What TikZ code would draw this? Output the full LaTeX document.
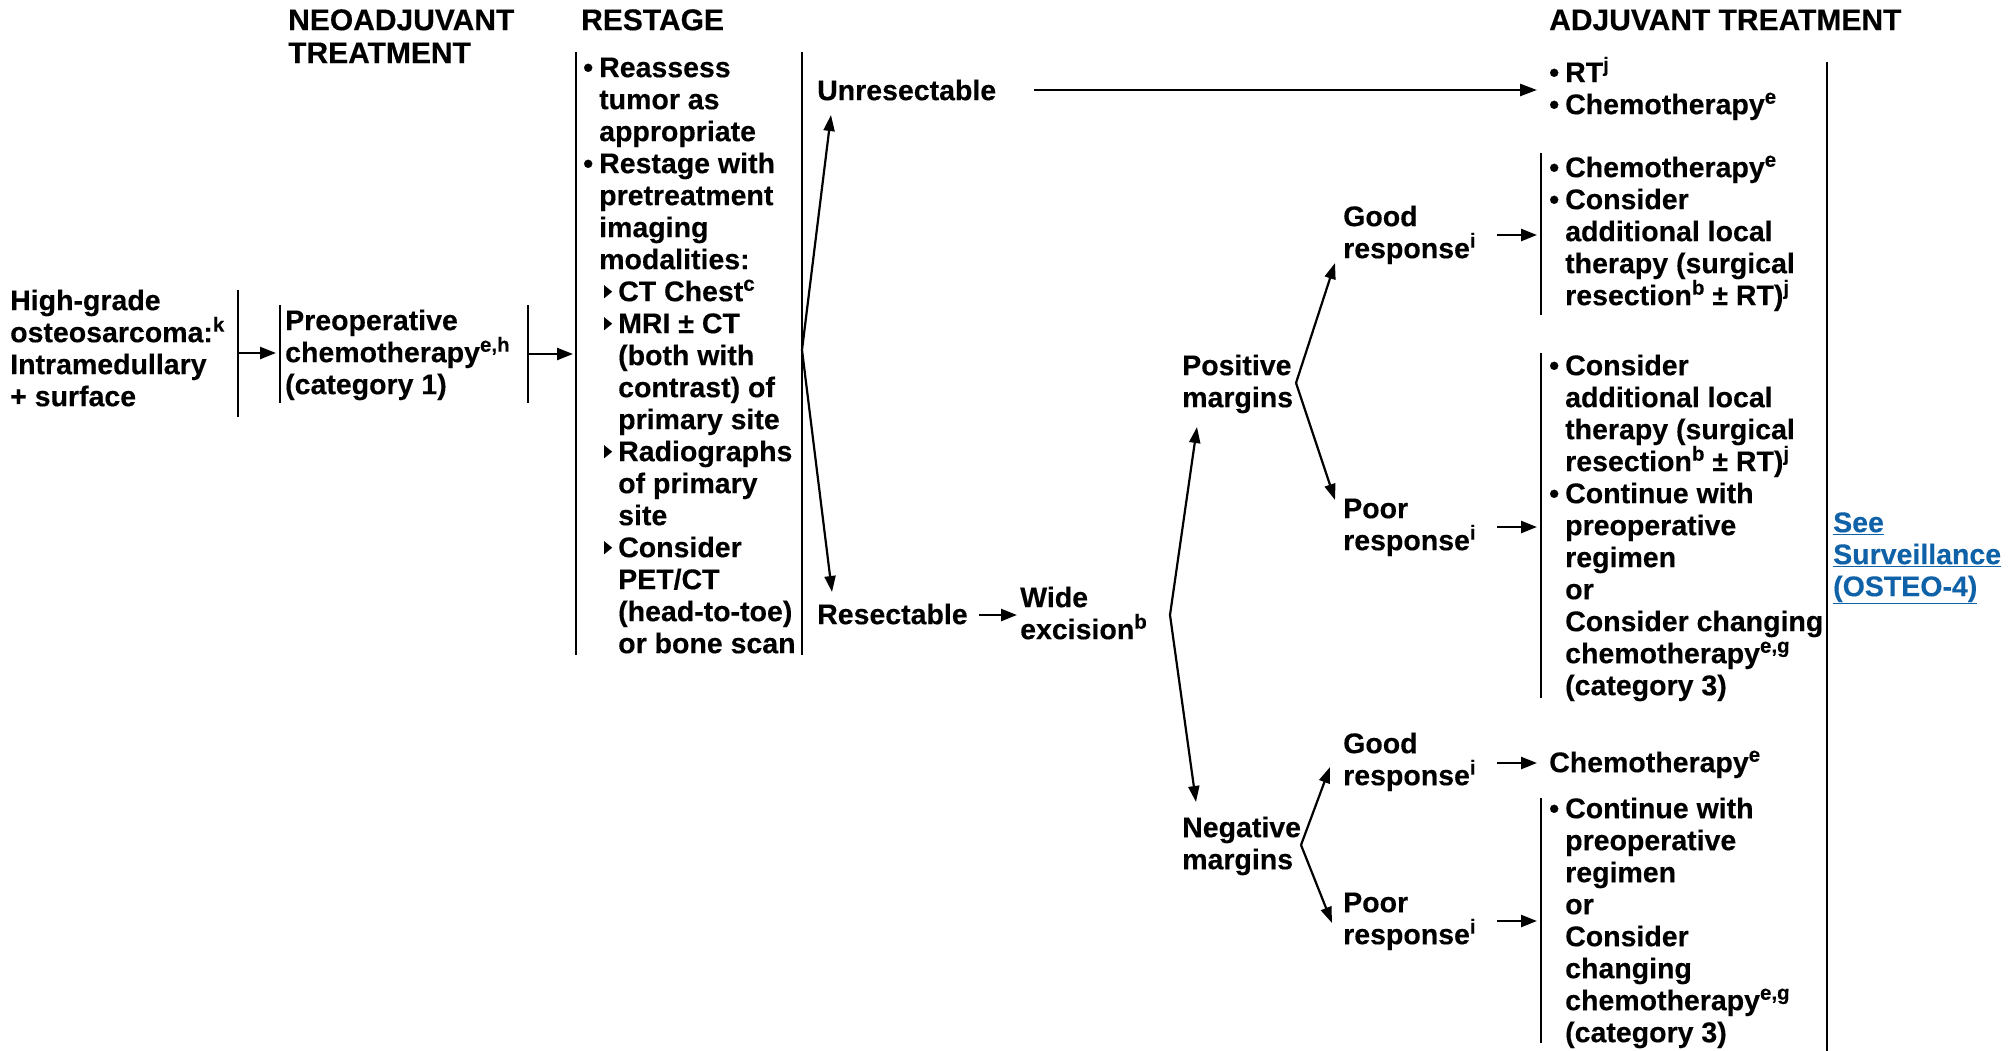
\documentclass[tikz,border=0pt]{standalone}
\usepackage{fontspec}
\setmainfont{Liberation Sans}[BoldFeatures={FakeBold=0.3}]
\usetikzlibrary{arrows.meta}
\definecolor{linkblue}{RGB}{16,98,168}

% first-line strut: fixes the node top 26pt above the first baseline
\newcommand\fl{\rule[-6pt]{0pt}{32pt}}
\newcommand\sps[1]{\raisebox{10.5pt}{\fontsize{20.5}{20.5}\selectfont #1}}
\newcommand\bu{\makebox[16pt][l]{•}}
\newcommand\ind{\hspace*{16pt}}
\newcommand\tri{\hspace*{5pt}\makebox[14pt][l]{\tikz[x=1pt,y=1pt,baseline=0pt]\fill (0,3) -- (0,16) -- (8,9.5) -- cycle;}}
\newcommand\indd{\hspace*{35pt}}
\newcommand\bodyfont{\bfseries\fontsize{28.5}{32}\selectfont}
\newcommand\headfont{\bfseries\fontsize{30}{33}\selectfont}

\begin{document}
\lineskiplimit=-100pt
\begin{tikzpicture}[x=1pt,y=-1pt,
  txt/.style={anchor=north west,inner sep=0pt,align=left,font=\bodyfont},
  head/.style={txt,font=\headfont},
  link/.style={txt,text=linkblue},
  bar/.style={line width=2pt},
  arr/.style={line width=2.2pt,-{Triangle[length=16pt,width=11pt]}},
  harr/.style={line width=2.6pt,-{Triangle[length=17pt,width=12pt]}},
  sarr/.style={line width=2.4pt,-{Triangle[length=16pt,width=12pt]}}]
\useasboundingbox (0,0) rectangle (2015,1051);

% column headings
\node[head] (hNeo) at (288,4) {\fl NEOADJUVANT\\TREATMENT};
\node[head] (hRes) at (581,4) {\fl RESTAGE};
\node[head] (hAdj) at (1549,4) {\fl ADJUVANT TREATMENT};

% left column
\node[txt] (start) at (10,284) {\fl High-grade\\osteosarcoma:\sps{k}\\Intramedullary\\+ surface};
\node[txt] (preop) at (285,304) {\fl Preoperative\\chemotherapy\sps{e,h}\\(category 1)};
\node[txt] (restage) at (583,51) {\fl\bu Reassess\\
  \ind tumor as\\
  \ind appropriate\\
  \bu Restage with\\
  \ind pretreatment\\
  \ind imaging\\
  \ind modalities:\\
  \ind\tri CT Chest\sps{c}\\
  \ind\tri MRI ± CT\\
  \indd (both with\\
  \indd contrast) of\\
  \indd primary site\\
  \ind\tri Radiographs\\
  \indd of primary\\
  \indd site\\
  \ind\tri Consider\\
  \indd PET/CT\\
  \indd (head-to-toe)\\
  \indd or bone scan};

% middle column
\node[txt] (unres) at (817,74) {\fl Unresectable};
\node[txt] (res) at (817,598) {\fl Resectable};
\node[txt] (wide) at (1020,581) {\fl Wide\\excision\sps{b}};
\node[txt] (pos) at (1182,349) {\fl Positive\\margins};
\node[txt] (neg) at (1182,811) {\fl Negative\\margins};
\node[txt] (good1) at (1343,200) {\fl Good\\response\sps{i}};
\node[txt] (poor1) at (1343,492) {\fl Poor\\response\sps{i}};
\node[txt] (good2) at (1343,727) {\fl Good\\response\sps{i}};
\node[txt] (poor2) at (1343,886) {\fl Poor\\response\sps{i}};

% adjuvant treatment column
\node[txt] (adjU) at (1549,56) {\fl\bu RT\sps{j}\\\bu Chemotherapy\sps{e}};
\node[txt] (adjG1) at (1549,151) {\fl\bu Chemotherapy\sps{e}\\
  \bu Consider\\
  \ind additional local\\
  \ind therapy (surgical\\
  \ind resection\sps{b} ± RT)\sps{j}};
\node[txt] (adjP1) at (1549,349) {\fl\bu Consider\\
  \ind additional local\\
  \ind therapy (surgical\\
  \ind resection\sps{b} ± RT)\sps{j}\\
  \bu Continue with\\
  \ind preoperative\\
  \ind regimen\\
  \ind or\\
  \ind Consider changing\\
  \ind chemotherapy\sps{e,g}\\
  \ind (category 3)};
\node[txt] (adjG2) at (1549,746) {\fl Chemotherapy\sps{e}};
\node[txt] (adjP2) at (1549,792) {\fl\bu Continue with\\
  \ind preoperative\\
  \ind regimen\\
  \ind or\\
  \ind Consider\\
  \ind changing\\
  \ind chemotherapy\sps{e,g}\\
  \ind (category 3)};
\node[link] (surv) at (1833,506) {\fl\underline{See}\\\underline{Surveillance}\\\underline{(OSTEO-4)}};

% bracket bars
\draw[bar] (238,290) -- (238,417);
\draw[bar] (280,305) -- (280,403);
\draw[bar] (528,305) -- (528,403);
\draw[bar] (576,52) -- (576,655);
\draw[bar] (802,52) -- (802,655);
\draw[bar] (1541,153) -- (1541,315);
\draw[bar] (1541,353) -- (1541,698);
\draw[bar] (1541,798) -- (1541,1043);
\draw[bar] (1827,62) -- (1827,1051);

% connector end points
\coordinate (startR) at (238,353);
\coordinate (preopL) at (276,353);
\coordinate (preopR) at (528,354);
\coordinate (restL) at (573,354);
\coordinate (restR) at (802,350);
\coordinate (unresIn) at (831,115);
\coordinate (resIn) at (832,592);
\coordinate (unresOut) at (1034,90);
\coordinate (adjUIn) at (1537,90);
\coordinate (resOut) at (979,615);
\coordinate (wideIn) at (1017,615);
\coordinate (wideFork) at (1170,615);
\coordinate (posIn) at (1197,427);
\coordinate (negIn) at (1196,802);
\coordinate (posFork) at (1296,383);
\coordinate (good1In) at (1335,263);
\coordinate (poor1In) at (1335,500);
\coordinate (negFork) at (1301,845);
\coordinate (good2In) at (1330,767);
\coordinate (poor2In) at (1332,923);
\coordinate (good1Out) at (1497,235);
\coordinate (adjG1In) at (1537,235);
\coordinate (poor1Out) at (1497,527);
\coordinate (adjP1In) at (1537,527);
\coordinate (good2Out) at (1497,763);
\coordinate (adjG2In) at (1537,763);
\coordinate (poor2Out) at (1497,921);
\coordinate (adjP2In) at (1537,921);

% connectors
\draw[sarr] (startR) -- (preopL);
\draw[sarr] (preopR) -- (restL);
\draw[arr] (restR) -- (unresIn);
\draw[arr] (restR) -- (resIn);
\draw[harr] (unresOut) -- (adjUIn);
\draw[sarr] (resOut) -- (wideIn);
\draw[arr] (wideFork) -- (posIn);
\draw[arr] (wideFork) -- (negIn);
\draw[arr] (posFork) -- (good1In);
\draw[arr] (posFork) -- (poor1In);
\draw[arr] (negFork) -- (good2In);
\draw[arr] (negFork) -- (poor2In);
\draw[sarr] (good1Out) -- (adjG1In);
\draw[sarr] (poor1Out) -- (adjP1In);
\draw[sarr] (good2Out) -- (adjG2In);
\draw[sarr] (poor2Out) -- (adjP2In);
\end{tikzpicture}
\end{document}
